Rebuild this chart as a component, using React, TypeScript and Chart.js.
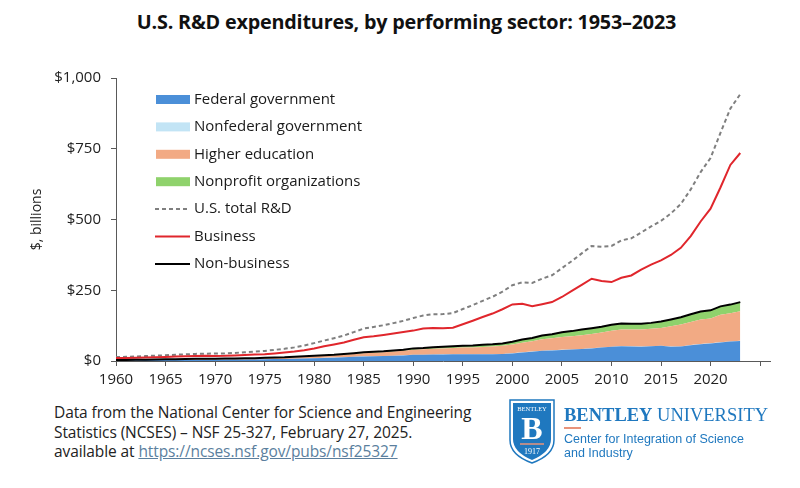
import React, { useEffect, useRef } from "react";
import { Chart, registerables } from "chart.js";

Chart.register(...registerables);

const years = [
  1960, 1961, 1962, 1963, 1964, 1965, 1966, 1967, 1968, 1969,
  1970, 1971, 1972, 1973, 1974, 1975, 1976, 1977, 1978, 1979,
  1980, 1981, 1982, 1983, 1984, 1985, 1986, 1987, 1988, 1989,
  1990, 1991, 1992, 1993, 1994, 1995, 1996, 1997, 1998, 1999,
  2000, 2001, 2002, 2003, 2004, 2005, 2006, 2007, 2008, 2009,
  2010, 2011, 2012, 2013, 2014, 2015, 2016, 2017, 2018, 2019,
  2020, 2021, 2022, 2023,
];

const federal = [
  2.2, 2.5, 2.8, 3.1, 3.6, 3.9, 4.1, 4.3, 4.6, 4.5,
  4.8, 5.0, 5.3, 5.5, 5.6, 6.4, 6.9, 7.2, 8.0, 9.0,
  9.9, 10.9, 11.8, 13.1, 14.6, 16.2, 16.9, 17.6, 18.7, 19.8,
  21.8, 22.0, 22.8, 23.3, 23.6, 24.1, 23.8, 24.0, 24.2, 24.8,
  26.8, 30.4, 32.9, 36.1, 37.3, 39.0, 40.5, 42.0, 44.5, 47.6,
  50.2, 52.1, 51.5, 50.5, 52.0, 53.5, 50.5, 51.0, 56.0, 59.5,
  62.0, 65.5, 68.5, 71.0,
];

const nonfederalGov = [
  0.1, 0.1, 0.1, 0.1, 0.1, 0.1, 0.1, 0.1, 0.1, 0.1,
  0.1, 0.1, 0.1, 0.1, 0.1, 0.1, 0.1, 0.1, 0.1, 0.1,
  0.2, 0.2, 0.2, 0.2, 0.2, 0.2, 0.2, 0.2, 0.2, 0.2,
  0.3, 0.3, 0.3, 0.3, 0.3, 0.3, 0.3, 0.3, 0.3, 0.3,
  0.4, 0.4, 0.4, 0.4, 0.4, 0.4, 0.4, 0.4, 0.4, 0.4,
  0.5, 0.5, 0.5, 0.5, 0.5, 0.5, 0.5, 0.5, 0.5, 0.5,
  0.6, 0.6, 0.6, 0.6,
];

const higherEd = [
  0.8, 0.9, 1.0, 1.2, 1.4, 1.6, 1.8, 2.0, 2.3, 2.4,
  2.5, 2.7, 2.9, 3.2, 3.4, 3.9, 4.3, 4.7, 5.4, 6.2,
  7.0, 7.6, 8.1, 8.8, 9.8, 11.0, 12.2, 13.4, 14.6, 15.9,
  17.6, 19.0, 20.1, 21.0, 21.9, 22.9, 23.9, 25.2, 26.8, 28.6,
  30.8, 33.6, 36.4, 40.0, 42.6, 45.3, 46.7, 48.5, 50.5, 52.6,
  55.8, 58.6, 59.3, 60.6, 61.2, 62.8, 71.6, 77.2, 81.4, 86.6,
  87.5, 96.9, 99.2, 104.4,
];

const nonprofit = [
  0.1, 0.2, 0.3, 0.3, 0.5, 0.5, 0.6, 0.6, 0.7, 0.7,
  0.8, 0.8, 0.8, 0.9, 1.0, 1.1, 1.2, 1.2, 1.3, 1.5,
  1.6, 1.8, 2.0, 2.5, 2.8, 3.1, 3.1, 3.0, 3.4, 3.9,
  4.9, 4.9, 5.4, 5.7, 6.0, 6.5, 6.9, 7.8, 8.0, 8.5,
  9.9, 11.4, 11.9, 13.7, 14.3, 17.2, 18.0, 20.1, 20.5, 20.7,
  21.2, 20.9, 20.0, 19.9, 21.0, 22.5, 24.0, 26.0, 27.0, 28.0,
  29.0, 30.0, 31.0, 32.0,
];

const totalRD = [
  13.7, 14.6, 15.7, 17.3, 19.1, 20.3, 22.1, 23.4, 25.1, 26.0,
  26.3, 26.9, 28.7, 30.9, 33.0, 35.7, 39.4, 43.0, 48.1, 54.9,
  63.2, 72.3, 80.7, 89.9, 102.2, 114.7, 120.2, 126.4, 133.9, 141.9,
  152.0, 160.9, 165.4, 165.7, 169.2, 183.6, 197.3, 212.7, 226.9, 245.0,
  267.9, 277.8, 275.5, 290.9, 302.9, 328.1, 353.3, 380.3, 406.6, 403.7,
  406.6, 426.2, 433.6, 454.0, 475.4, 495.1, 521.3, 554.8, 606.4, 667.5,
  717.3, 806.0, 892.0, 943.0,
];

const business = [
  10.5, 10.9, 11.5, 12.6, 13.5, 14.2, 15.5, 16.4, 17.4, 18.3,
  18.1, 18.3, 19.6, 21.2, 22.9, 24.2, 26.9, 29.8, 33.3, 38.1,
  44.5, 51.8, 58.6, 65.3, 74.8, 84.2, 87.8, 92.2, 97.0, 102.1,
  107.4, 114.7, 116.8, 115.4, 117.4, 129.8, 142.4, 155.4, 167.6, 182.8,
  200.0, 202.0, 193.9, 200.7, 208.3, 226.2, 247.7, 269.3, 290.7, 282.4,
  278.9, 294.1, 302.3, 322.5, 340.7, 355.8, 374.7, 400.1, 441.5, 492.9,
  538.2, 613.0, 692.7, 735.0,
];

const nonBusiness = [
  3.2, 3.7, 4.2, 4.7, 5.6, 6.1, 6.6, 7.0, 7.7, 7.7,
  8.2, 8.6, 9.1, 9.7, 10.1, 11.5, 12.5, 13.2, 14.8, 16.8,
  18.7, 20.5, 22.1, 24.6, 27.4, 30.5, 32.4, 34.2, 36.9, 39.8,
  44.6, 46.2, 48.6, 50.3, 51.8, 53.8, 54.9, 57.3, 59.3, 62.2,
  67.9, 75.8, 81.6, 90.2, 94.6, 101.9, 105.6, 111.0, 115.9, 121.3,
  127.7, 132.1, 131.3, 131.5, 134.7, 139.3, 146.6, 154.7, 164.9, 174.6,
  179.1, 193.0, 199.3, 208.0,
];

const yTicks = [0, 250, 500, 750, 1000];
const xLabelYears = [1960, 1965, 1970, 1975, 1980, 1985, 1990, 1995, 2000, 2005, 2010, 2015, 2020];

const FONT = "'Open Sans', 'DejaVu Sans', sans-serif";

const pts = (arr: number[]) => arr.map((v, i) => ({ x: years[i], y: v }));

const legendPlugin = {
  id: "insideLegend",
  afterDraw(chart: any) {
    const ctx = chart.ctx;
    const order = [0, 1, 2, 3, 4, 5, 6];
    const x0 = 156;
    const boxW = 34;
    const y0 = 99.5;
    const gap = 27.4;
    ctx.save();
    order.forEach((di, k) => {
      const ds = chart.data.datasets[di];
      const cy = y0 + k * gap;
      if (ds.fill !== false) {
        ctx.fillStyle = ds.backgroundColor;
        ctx.fillRect(x0, cy - 4.5, boxW, 9);
      } else {
        ctx.strokeStyle = ds.borderColor;
        ctx.lineWidth = 2;
        ctx.setLineDash(ds.borderDash || []);
        ctx.beginPath();
        ctx.moveTo(x0 - 1, cy);
        ctx.lineTo(x0 + boxW, cy);
        ctx.stroke();
        ctx.setLineDash([]);
      }
      ctx.fillStyle = "#1a1a1a";
      ctx.font = `15px ${FONT}`;
      ctx.textBaseline = "middle";
      ctx.textAlign = "left";
      ctx.fillText(ds.label, x0 + boxW + 4, cy);
    });
    ctx.restore();
  },
};

function RDChart() {
  const ref = useRef<HTMLCanvasElement | null>(null);
  useEffect(() => {
    if (!ref.current) return;
    const chart = new Chart(ref.current, {
      type: "line",
      data: {
        datasets: [
          {
            label: "Federal government",
            data: pts(federal),
            backgroundColor: "#4b8fd8",
            borderWidth: 0,
            fill: "origin",
            stack: "sectors",
            order: 10,
          },
          {
            label: "Nonfederal government",
            data: pts(nonfederalGov),
            backgroundColor: "#c2e4f5",
            borderWidth: 0,
            fill: "-1",
            stack: "sectors",
            order: 11,
          },
          {
            label: "Higher education",
            data: pts(higherEd),
            backgroundColor: "#f2aa84",
            borderWidth: 0,
            fill: "-1",
            stack: "sectors",
            order: 12,
          },
          {
            label: "Nonprofit organizations",
            data: pts(nonprofit),
            backgroundColor: "#8fd26c",
            borderWidth: 0,
            fill: "-1",
            stack: "sectors",
            order: 13,
          },
          {
            label: "U.S. total R&D",
            data: pts(totalRD),
            borderColor: "#7f7f7f",
            borderWidth: 2,
            borderDash: [4, 3],
            fill: false,
            stack: "total",
            order: 2,
          },
          {
            label: "Business",
            data: pts(business),
            borderColor: "#e0262c",
            borderWidth: 2,
            fill: false,
            stack: "business",
            order: 1,
          },
          {
            label: "Non-business",
            data: pts(nonBusiness),
            borderColor: "#000000",
            borderWidth: 2,
            fill: false,
            stack: "nonbusiness",
            order: 0,
          },
        ],
      },
      options: {
        responsive: false,
        animation: false,
        events: [],
        layout: { padding: { top: 78, right: 30, bottom: 0, left: 0 } },
        elements: { point: { radius: 0 }, line: { tension: 0 } },
        plugins: {
          legend: { display: false },
          tooltip: { enabled: false },
          title: { display: false },
        },
        scales: {
          x: {
            type: "linear",
            min: 1960,
            max: 2026,
            afterFit: (s: any) => {
              s.height = 39;
            },
            border: { display: true, color: "#595959", width: 1 },
            grid: { display: true, drawOnChartArea: false, drawTicks: true, tickLength: 5, color: "#595959" },
            ticks: {
              stepSize: 5,
              includeBounds: false,
              autoSkip: false,
              maxRotation: 0,
              padding: 5,
              color: "#222222",
              font: { family: FONT, size: 15 },
              callback: (v: any) => (xLabelYears.includes(Number(v)) ? String(v) : ""),
            },
          },
          y: {
            type: "linear",
            stacked: true,
            min: 0,
            max: 1000,
            afterFit: (s: any) => {
              s.width = 116;
            },
            afterBuildTicks: (s: any) => {
              s.ticks = yTicks.map((v) => ({ value: v }));
            },
            border: { display: true, color: "#595959", width: 1 },
            grid: { display: true, drawOnChartArea: false, drawTicks: true, tickLength: 5, color: "#595959" },
            ticks: {
              padding: 10,
              color: "#222222",
              font: { family: FONT, size: 15 },
              callback: (v: any) => "$" + Number(v).toLocaleString("en-US"),
            },
            title: {
              display: true,
              text: "$, billions",
              color: "#222222",
              font: { family: FONT, size: 14 },
              padding: { top: 29, bottom: 0 },
            },
          },
        },
      },
      plugins: [legendPlugin],
    } as any);
    return () => chart.destroy();
  }, []);
  return (
    <canvas
      ref={ref}
      width={800}
      height={400}
      style={{ position: "absolute", left: 0, top: 0, width: 800, height: 400 }}
    />
  );
}

function Logo() {
  return (
    <div style={{ position: "absolute", left: 508, top: 398, width: 280, height: 70 }}>
      <svg width={48} height={66} viewBox="0 0 48 66" style={{ position: "absolute", left: 0, top: 0 }}>
        <path d="M2,2 H46 V42 Q46,57 24,65 Q2,57 2,42 Z" fill="#ffffff" stroke="#1f78bf" strokeWidth={1.5} />
        <path d="M5,5 H43 V41 Q43,54 24,62 Q5,54 5,41 Z" fill="#1f78bf" />
        <text x={24} y={13} textAnchor="middle" fontSize={6.5} fill="#ffffff" fontFamily="'Liberation Serif', serif">BENTLEY</text>
        <text x={24} y={41} textAnchor="middle" fontSize={32} fontWeight="bold" fill="#ffffff" fontFamily="'Liberation Serif', serif">B</text>
        <line x1={12} y1={46} x2={36} y2={46} stroke="#e8937a" strokeWidth={1.5} />
        <text x={24} y={56} textAnchor="middle" fontSize={8} fill="#ffffff" fontFamily="'Liberation Serif', serif">1917</text>
      </svg>
      <div
        style={{
          position: "absolute",
          left: 56,
          top: 6,
          whiteSpace: "nowrap",
          fontFamily: "'Liberation Serif', 'DejaVu Serif', serif",
          fontSize: 18.5,
          color: "#1f78bf",
          lineHeight: "22px",
        }}
      >
        <span style={{ fontWeight: "bold" }}>BENTLEY</span> UNIVERSITY
      </div>
      <div style={{ position: "absolute", left: 56, top: 29, width: 17, height: 2, background: "#e8937a" }} />
      <div
        style={{
          position: "absolute",
          left: 56,
          top: 34,
          whiteSpace: "nowrap",
          fontFamily: "'Liberation Sans', Arial, sans-serif",
          fontSize: 12.5,
          color: "#1f78bf",
          lineHeight: "14px",
        }}
      >
        Center for Integration of Science
        <br />
        and Industry
      </div>
    </div>
  );
}

export default function App() {
  return (
    <div
      style={{
        position: "absolute",
        left: 0,
        top: 0,
        width: 800,
        height: 488,
        background: "#ffffff",
        overflow: "hidden",
      }}
    >
      <div
        style={{
          position: "absolute",
          left: 0,
          top: 8,
          width: 813,
          textAlign: "center",
          fontFamily: FONT,
          fontWeight: "bold",
          fontSize: 19.8,
          color: "#111111",
          lineHeight: "28px",
          whiteSpace: "nowrap",
          letterSpacing: "-0.2px",
        }}
      >
        U.S. R&amp;D expenditures, by performing sector: 1953–2023
      </div>
      <RDChart />
      <div
        style={{
          position: "absolute",
          left: 54,
          top: 403,
          fontFamily: FONT,
          fontSize: 15.5,
          lineHeight: "19.5px",
          color: "#222222",
          whiteSpace: "nowrap",
          letterSpacing: "-0.1px",
        }}
      >
        Data from the National Center for Science and Engineering
        <br />
        Statistics (NCSES) – NSF 25-327, February 27, 2025.
        <br />
        available at{" "}
        <span style={{ color: "#5b7f9e", textDecoration: "underline" }}>https://ncses.nsf.gov/pubs/nsf25327</span>
      </div>
      <Logo />
    </div>
  );
}
